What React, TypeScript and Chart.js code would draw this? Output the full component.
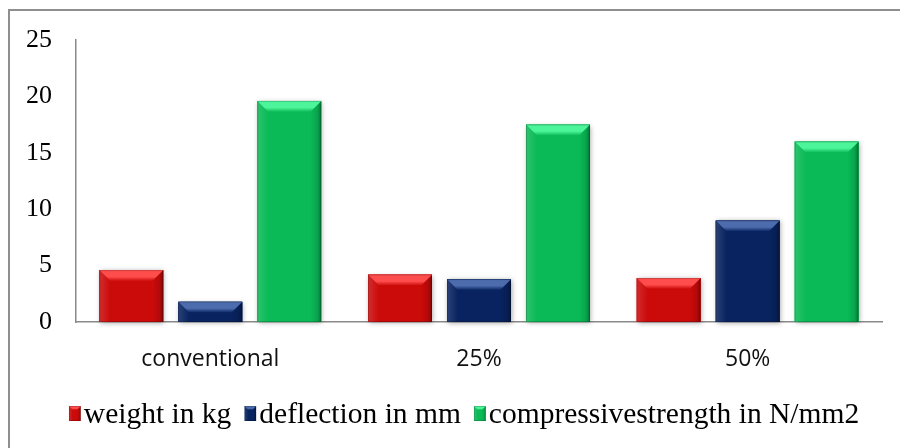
import { useEffect, useRef } from "react";
import { Chart, registerables } from "chart.js";

Chart.register(...registerables);

// ---- data ----
const categories = ["conventional", "25%", "50%"];
const weightKg = [4.6, 4.2, 3.9];
const deflectionMm = [1.8, 3.8, 9.0];
const compressiveStrength = [19.6, 17.5, 16.0];
const seriesNames = ["weight in kg", "deflection in mm", "compressivestrength in N/mm2"];
const yTicks = [0, 5, 10, 15, 20, 25];

// ---- styling ----
const palette = [
  { base: "#cb0a0a", light: "#ff4d4d", dark: "#7a0303" },
  { base: "#082360", light: "#4d6cae", dark: "#03143b" },
  { base: "#0aba56", light: "#4cf59a", dark: "#05743a" },
];
const axisColor = "#8a8a8a";
const frameColor = "#8f8f8f";

type Pal = { base: string; light: string; dark: string };

// A rectangle with a raised, bevelled face
function drawBevelRect(
  ctx: CanvasRenderingContext2D,
  L: number,
  T: number,
  R: number,
  B: number,
  pal: Pal,
  depth: number
) {
  const w = R - L;
  const h = B - T;
  if (w <= 0 || h <= 0) return;
  const d = Math.min(depth, w / 2, h);
  ctx.save();
  ctx.beginPath();
  ctx.rect(L, T, w, h);
  ctx.clip();

  ctx.fillStyle = pal.base;
  ctx.fillRect(L, T, w, h);

  // left face
  let g = ctx.createLinearGradient(L, 0, L + d, 0);
  g.addColorStop(0, "rgba(255,255,255,0.14)");
  g.addColorStop(1, "rgba(255,255,255,0)");
  ctx.fillStyle = g;
  ctx.beginPath();
  ctx.moveTo(L, T);
  ctx.lineTo(L + d, T + d);
  ctx.lineTo(L + d, B);
  ctx.lineTo(L, B);
  ctx.closePath();
  ctx.fill();

  // right face
  g = ctx.createLinearGradient(R, 0, R - d, 0);
  g.addColorStop(0, "rgba(0,0,0,0.38)");
  g.addColorStop(0.35, "rgba(0,0,0,0.12)");
  g.addColorStop(1, "rgba(0,0,0,0)");
  ctx.fillStyle = g;
  ctx.beginPath();
  ctx.moveTo(R, T);
  ctx.lineTo(R - d, T + d);
  ctx.lineTo(R - d, B);
  ctx.lineTo(R, B);
  ctx.closePath();
  ctx.fill();

  // top face
  g = ctx.createLinearGradient(0, T, 0, T + d);
  g.addColorStop(0, pal.light);
  g.addColorStop(0.6, pal.light);
  g.addColorStop(1, pal.base);
  ctx.fillStyle = g;
  ctx.beginPath();
  ctx.moveTo(L, T);
  ctx.lineTo(R, T);
  ctx.lineTo(R - d, T + d);
  ctx.lineTo(L + d, T + d);
  ctx.closePath();
  ctx.fill();

  // thin outline
  ctx.strokeStyle = "rgba(0,0,0,0.18)";
  ctx.lineWidth = 1;
  ctx.strokeRect(L + 0.5, T + 0.5, w - 1, h - 1);
  ctx.restore();
}

const framePlugin = {
  id: "frame",
  beforeDraw(chart: any) {
    const ctx = chart.ctx as CanvasRenderingContext2D;
    ctx.save();
    ctx.fillStyle = "#ffffff";
    ctx.fillRect(0, 0, chart.width, chart.height);
    ctx.strokeStyle = frameColor;
    ctx.lineWidth = 2;
    ctx.beginPath();
    ctx.moveTo(9, chart.height);
    ctx.lineTo(9, 10);
    ctx.lineTo(chart.width, 10);
    ctx.stroke();
    ctx.restore();
  },
};

const bevelBarsPlugin = {
  id: "bevelBars",
  beforeDatasetsDraw(chart: any) {
    const ctx = chart.ctx as CanvasRenderingContext2D;
    chart.data.datasets.forEach((_: any, di: number) => {
      const meta = chart.getDatasetMeta(di);
      meta.data.forEach((el: any) => {
        const { x, y, base, width } = el.getProps(["x", "y", "base", "width"], true);
        ctx.save();
        ctx.shadowColor = "rgba(0,0,0,0.35)";
        ctx.shadowBlur = 5;
        ctx.shadowOffsetX = 1;
        ctx.shadowOffsetY = 1;
        ctx.fillStyle = palette[di].base;
        ctx.fillRect(x - width / 2, y, width, base - y);
        ctx.restore();
      });
    });
  },
  afterDatasetsDraw(chart: any) {
    const ctx = chart.ctx as CanvasRenderingContext2D;
    chart.data.datasets.forEach((_: any, di: number) => {
      const meta = chart.getDatasetMeta(di);
      meta.data.forEach((el: any) => {
        const { x, y, base, width } = el.getProps(["x", "y", "base", "width"], true);
        drawBevelRect(ctx, x - width / 2, y, x + width / 2, base, palette[di], 11);
      });
    });
  },
};

const legendPlugin = {
  id: "bevelLegend",
  afterDraw(chart: any) {
    const ctx = chart.ctx as CanvasRenderingContext2D;
    ctx.save();
    ctx.font = '29.5px "Liberation Serif"';
    ctx.fillStyle = "#000000";
    ctx.textBaseline = "alphabetic";
    ctx.textAlign = "left";
    const box = 12;
    const gapText = 3;
    const gapItem = 13;
    const widths = seriesNames.map((n) => ctx.measureText(n).width);
    const total =
      widths.reduce((a, b) => a + b, 0) + seriesNames.length * (box + gapText) + gapItem * (seriesNames.length - 1);
    let x = 464 - total / 2;
    const baseline = 423;
    seriesNames.forEach((name, i) => {
      drawBevelRect(ctx, x, baseline - 17, x + box, baseline - 2, palette[i], 4);
      ctx.fillStyle = "#000000";
      ctx.fillText(name, x + box + gapText, baseline);
      x += box + gapText + widths[i] + gapItem;
    });
    ctx.restore();
  },
};

export default function App() {
  const canvasRef = useRef<HTMLCanvasElement | null>(null);

  useEffect(() => {
    const canvas = canvasRef.current;
    if (!canvas) return;
    const chart = new Chart(canvas, {
      type: "bar",
      data: {
        labels: categories,
        datasets: [
          { label: seriesNames[0], data: weightKg, backgroundColor: palette[0].base },
          { label: seriesNames[1], data: deflectionMm, backgroundColor: palette[1].base },
          { label: seriesNames[2], data: compressiveStrength, backgroundColor: palette[2].base },
        ],
      },
      options: {
        responsive: false,
        animation: false,
        events: [],
        categoryPercentage: 0.882,
        barPercentage: 0.81,
        layout: { padding: { left: 0, right: 18, top: 40, bottom: 0 } },
        plugins: {
          legend: { display: false },
          tooltip: { enabled: false },
        },
        scales: {
          x: {
            z: 1,
            grid: { display: false, drawTicks: false },
            border: { display: true, color: axisColor, width: 1.5 },
            ticks: {
              font: { family: "Open Sans", size: 23 },
              color: "#111111",
              padding: 24,
              maxRotation: 0,
              autoSkip: false,
            },
            afterFit(scale: any) {
              scale.height = 126;
            },
          },
          y: {
            min: 0,
            max: 25,
            grid: { display: false, drawTicks: false },
            border: { display: true, color: axisColor, width: 1.5 },
            ticks: {
              font: { family: "Liberation Serif", size: 26 },
              color: "#000000",
              padding: 24,
            },
            afterBuildTicks(scale: any) {
              scale.ticks = yTicks.map((v) => ({ value: v }));
            },
            afterFit(scale: any) {
              scale.width = 76;
            },
          },
        },
      },
      plugins: [framePlugin, bevelBarsPlugin, legendPlugin],
    });
    return () => chart.destroy();
  }, []);

  return (
    <div style={{ position: "fixed", left: 0, top: 0, width: 900, height: 448 }}>
      <canvas ref={canvasRef} width={900} height={448} style={{ display: "block" }} />
    </div>
  );
}
